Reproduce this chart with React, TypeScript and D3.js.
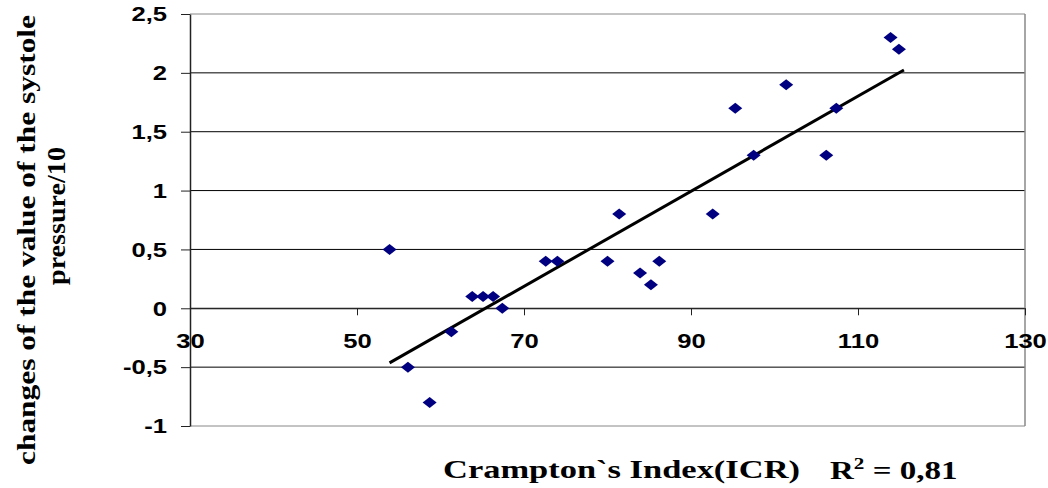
import React, { useEffect, useRef } from 'react';
import * as d3 from 'd3';

// Crampton's index vs change of systolic pressure / 10
const icr = [53.9, 56.1, 58.7, 61.3, 63.8, 65.1, 66.3, 67.4, 72.6, 74.0, 80.0, 81.4, 83.9, 85.2, 86.2, 92.6, 95.3, 97.5, 101.4, 106.2, 107.4, 113.9, 114.9];
const pressure = [0.5, -0.5, -0.8, -0.2, 0.1, 0.1, 0.1, 0, 0.4, 0.4, 0.4, 0.8, 0.3, 0.2, 0.4, 0.8, 1.7, 1.3, 1.9, 1.3, 1.7, 2.3, 2.2];
const xTicks = [30, 50, 70, 90, 110, 130];
const yTicks = [-1, -0.5, 0, 0.5, 1, 1.5, 2, 2.5];
const r2Label = '0,81';

const App: React.FC = () => {
  const svgRef = useRef<SVGSVGElement>(null);

  useEffect(() => {
    if (!svgRef.current) return;
    const width = 1048;
    const height = 488;
    const svg = d3.select(svgRef.current);
    svg.selectAll('*').remove();
    svg.attr('width', width).attr('height', height);

    const left = 190, right = 1025, top = 14, bottom = 426;
    const x = d3.scaleLinear().domain([30, 130]).range([left, right]);
    const y = d3.scaleLinear().domain([-1, 2.5]).range([bottom, top]);
    const fmt = (v: number) => String(v).replace('.', ',');
    const stretch = 1.22; // the original text is drawn wider than normal
    const serif = '"Times New Roman", "Liberation Serif", serif';
    const sans = 'Arial, "Liberation Sans", sans-serif';

    // horizontal gridlines
    svg.append('g')
      .selectAll('line')
      .data(yTicks)
      .enter()
      .append('line')
      .attr('x1', left).attr('x2', right)
      .attr('y1', d => y(d)).attr('y2', d => y(d))
      .attr('stroke', d => (d === 2.5 || d === -1) ? '#888' : '#000')
      .attr('stroke-width', 1);

    // right border
    svg.append('line')
      .attr('x1', right).attr('x2', right).attr('y1', top).attr('y2', bottom)
      .attr('stroke', '#888').attr('stroke-width', 1.5);

    // y axis
    const yAxis = svg.append('g')
      .attr('transform', `translate(${left},0)`)
      .call(d3.axisLeft(y).tickValues(yTicks).tickSize(9).tickSizeOuter(0).tickFormat(d => fmt(d as number)));
    yAxis.select('.domain').attr('stroke', '#222').attr('stroke-width', 1.5);
    yAxis.selectAll('.tick line').attr('stroke', '#222');
    yAxis.selectAll('text')
      .attr('x', -23 / stretch)
      .attr('transform', `scale(${stretch},1)`)
      .style('font-family', sans)
      .style('font-size', '21px').style('font-weight', 'bold').attr('fill', '#000');

    // x axis at y = 0
    const xAxis = svg.append('g')
      .attr('transform', `translate(0,${y(0)})`)
      .call(d3.axisBottom(x).tickValues(xTicks).tickSize(7).tickSizeOuter(0).tickPadding(18).tickFormat(d => String(d)));
    xAxis.select('.domain').attr('stroke', '#222').attr('stroke-width', 1);
    xAxis.selectAll('.tick line').attr('stroke', '#222');
    xAxis.selectAll('text')
      .attr('transform', `scale(${stretch},1)`)
      .style('font-family', sans)
      .style('font-size', '21px').style('font-weight', 'bold').attr('fill', '#000');

    // trend line (least squares)
    const mx = d3.mean(icr) as number;
    const my = d3.mean(pressure) as number;
    let sxy = 0, sxx = 0;
    icr.forEach((v, i) => { sxy += (v - mx) * (pressure[i] - my); sxx += (v - mx) * (v - mx); });
    const slope = sxy / sxx;
    const intercept = my - slope * mx;
    const [x0, x1] = d3.extent(icr) as [number, number];
    const trend = [x0, x1 + 0.6].map(v => [v, intercept + slope * v] as [number, number]);
    svg.append('path')
      .datum(trend)
      .attr('d', d3.line<[number, number]>().x(d => x(d[0])).y(d => y(d[1])))
      .attr('stroke', '#000').attr('stroke-width', 3).attr('fill', 'none');

    // diamond markers
    svg.append('g')
      .selectAll('path')
      .data(icr.map((v, i) => [v, pressure[i]]))
      .enter()
      .append('path')
      .attr('transform', d => `translate(${x(d[0])},${y(d[1])})`)
      .attr('d', 'M0,-5.5L7,0L0,5.5L-7,0Z')
      .attr('fill', '#000080');

    // axis titles
    const yTitle = svg.append('g')
      .style('font-family', serif)
      .style('font-weight', 'bold').style('font-size', '26px');
    yTitle.append('text')
      .attr('transform', 'translate(35,240) rotate(-90)')
      .attr('text-anchor', 'middle')
      .attr('textLength', 450).attr('lengthAdjust', 'spacingAndGlyphs')
      .text('changes of the value of the systole');
    yTitle.append('text')
      .attr('transform', 'translate(65,216) rotate(-90)')
      .attr('text-anchor', 'middle')
      .attr('textLength', 138).attr('lengthAdjust', 'spacingAndGlyphs')
      .text('pressure/10');

    svg.append('text')
      .attr('x', 443).attr('y', 478)
      .attr('textLength', 357).attr('lengthAdjust', 'spacingAndGlyphs')
      .style('font-family', serif)
      .style('font-weight', 'bold').style('font-size', '25px')
      .text('Crampton`s Index(ICR)');

    const r2 = svg.append('g')
      .attr('transform', 'translate(830,479) scale(1.32,1)')
      .append('text')
      .style('font-family', serif)
      .style('font-weight', 'bold').style('font-size', '25px');
    r2.append('tspan').text('R');
    r2.append('tspan').attr('dy', -10).style('font-size', '16px').text('2');
    r2.append('tspan').attr('dy', 10).text(` = ${r2Label}`);
  }, []);

  return (
    <div style={{ position: 'absolute', left: 0, top: 0 }}>
      <svg ref={svgRef} />
    </div>
  );
};

export default App;
